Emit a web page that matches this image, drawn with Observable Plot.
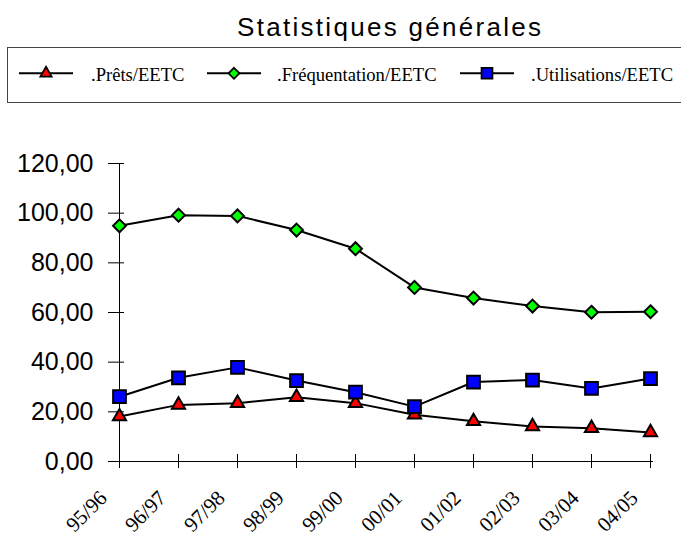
<!DOCTYPE html>
<html><head><meta charset="utf-8">
<script src="https://cdn.jsdelivr.net/npm/d3@7"></script>
<script src="https://cdn.jsdelivr.net/npm/@observablehq/plot@0.6"></script>
<style>
body{margin:0;background:#fff;}
#wrap{position:relative;width:681px;height:538px;overflow:hidden;background:#fff;}
#title{position:absolute;left:237px;top:13.5px;font-family:"Liberation Sans",Arial,sans-serif;font-size:26px;line-height:1;letter-spacing:2.3px;white-space:nowrap;color:#000;}
#legend{position:absolute;z-index:2;left:7px;top:47px;width:720px;height:54px;border:1px solid #444;box-sizing:content-box;}
#legend svg{position:absolute;display:block;top:0;}
#legend span{position:absolute;display:block;top:18.4px;font-family:"Liberation Serif","Times New Roman",serif;font-size:18.6px;line-height:1;white-space:nowrap;color:#000;}
#chart{position:absolute;z-index:1;left:0;top:102px;}
</style></head>
<body>
<div id="wrap">
  <div id="title">Statistiques générales</div>
  <div id="legend"></div>
  <div id="chart"></div>
</div>
<script>
const categories = ["95/96","96/97","97/98","98/99","99/00","00/01","01/02","02/03","03/04","04/05"];
const prets = [18.1, 22.8, 23.5, 25.9, 23.5, 18.8, 16.2, 14.1, 13.4, 11.7];
const frequentation = [94.9, 99.2, 98.9, 93.2, 85.7, 70.1, 65.8, 62.6, 60.1, 60.3];
const utilisations = [26.1, 33.7, 37.9, 32.6, 27.9, 22.1, 32.0, 32.8, 29.4, 33.4];
const seriesNames = [".Prêts/EETC", ".Fréquentation/EETC", ".Utilisations/EETC"];
const seriesColors = ["#ff0000", "#00ff00", "#0000ff"];
const yTicks = [0, 20, 40, 60, 80, 100, 120];

const seriesValues = [prets, frequentation, utilisations];
const symbols = ["triangle", "diamond2", "square"];
const d3Symbols = [d3.symbolTriangle, d3.symbolDiamond2, d3.symbolSquare];
const radii = [4.9, 5.8, 7.2];
const legendScale = 0.85;
// legend layout (pixels inside the legend box)
const legendLineX = [11, 199, 452];
const legendTextX = [83, 269, 523];

const rows = seriesValues.map((vals, s) => categories.map((c, i) => ({cat: c, value: vals[i], series: seriesNames[s]})));

const fmt = d => d.toFixed(2).replace(".", ",");

const marks = [
  Plot.ruleY([0], {stroke: "#000", strokeWidth: 1}),
  Plot.ruleX([categories[0]], {y1: 0, y2: 120, stroke: "#000", strokeWidth: 1}),
  Plot.axisY({ticks: yTicks, tickSize: 16, dx: 8, fill: "none", label: null}),
  Plot.axisY({ticks: yTicks, tickSize: 0, tickPadding: 23, tickFormat: fmt, fontSize: 25, fontFamily: "'Liberation Sans', Arial, sans-serif", label: null}),
  Plot.axisX({tickSize: 14, dy: -7, fill: "none", label: null}),
  Plot.axisX({tickSize: 0, tickRotate: -45, tickPadding: 33, dx: -16, fontSize: 21, fontFamily: "'Liberation Serif', 'Times New Roman', serif", label: null})
];
rows.forEach((data, s) => {
  marks.push(Plot.line(data, {x: "cat", y: "value", stroke: "#000", strokeWidth: 2}));
  marks.push(Plot.dot(data, {x: "cat", y: "value", symbol: () => symbols[s], r: radii[s], fill: seriesColors[s], stroke: "#000", strokeWidth: 2}));
});

const chart = Plot.plot({
  width: 681,
  height: 436,
  marginLeft: 116,
  marginRight: 28,
  marginTop: 61,
  marginBottom: 77,
  x: {type: "point", domain: categories, padding: 0, label: null},
  y: {domain: [0, 120], label: null},
  symbol: {type: "identity"},
  style: {color: "#000", background: "none", overflow: "visible"},
  marks
});
document.getElementById("chart").appendChild(chart);

// legend
const legend = d3.select("#legend");
seriesNames.forEach((name, s) => {
  const svg = legend.append("svg").attr("width", 54).attr("height", 54).style("left", legendLineX[s] + "px");
  svg.append("line").attr("x1", 0).attr("x2", 54).attr("y1", 25.3).attr("y2", 25.3).attr("stroke", "#000").attr("stroke-width", 2);
  const r = radii[s] * legendScale;
  svg.append("path").attr("transform", "translate(27,25.3)")
    .attr("d", d3.symbol(d3Symbols[s], Math.PI * r * r)())
    .attr("fill", seriesColors[s]).attr("stroke", "#000").attr("stroke-width", 1.8);
  legend.append("span").style("left", legendTextX[s] + "px").text(name);
});
</script>
</body></html>
